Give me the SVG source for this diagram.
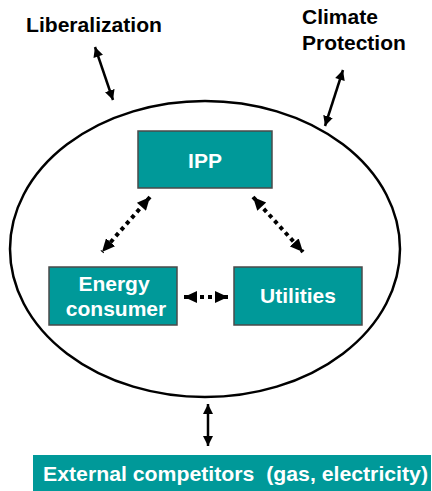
<svg xmlns="http://www.w3.org/2000/svg" width="432" height="491" viewBox="0 0 432 491">
  <style>
    .box { fill: #009999; stroke: #4a4a4a; stroke-width: 1.5; }
    .lbl { font-family: "Liberation Sans", Arial, sans-serif; font-weight: bold; font-size: 21px; }
    .white { fill: #ffffff; }
    .dark { fill: #000000; }
    .solid { stroke: #000; stroke-width: 2.5; fill: none; marker-start: url(#headS); marker-end: url(#headE); }
    .dotted { stroke: #000; stroke-width: 4; stroke-dasharray: 4 4; fill: none; marker-start: url(#dotS); marker-end: url(#dotE); }
  </style>
  <defs>
    <marker id="headE" markerUnits="userSpaceOnUse" markerWidth="12" markerHeight="10" refX="10" refY="5" orient="auto">
      <path d="M0,0 L10,5 L0,10 Z" fill="#000"/>
    </marker>
    <marker id="headS" markerUnits="userSpaceOnUse" markerWidth="12" markerHeight="10" refX="0" refY="5" orient="auto">
      <path d="M10,0 L0,5 L10,10 Z" fill="#000"/>
    </marker>
    <marker id="dotE" markerUnits="userSpaceOnUse" markerWidth="14" markerHeight="12" refX="13" refY="6" orient="auto">
      <path d="M0,0 L13,6 L0,12 Z" fill="#000"/>
    </marker>
    <marker id="dotS" markerUnits="userSpaceOnUse" markerWidth="14" markerHeight="12" refX="0" refY="6" orient="auto">
      <path d="M13,0 L0,6 L13,12 Z" fill="#000"/>
    </marker>
  </defs>

  <rect width="432" height="491" fill="#ffffff"/>

  <!-- market boundary -->
  <g id="market">
    <ellipse cx="205" cy="249" rx="195" ry="148" fill="none" stroke="#000" stroke-width="2.5"/>
  </g>

  <g id="liberalization">
    <text class="lbl dark" x="26" y="32" textLength="136" lengthAdjust="spacingAndGlyphs">Liberalization</text>
  </g>

  <g id="climate">
    <text class="lbl dark" x="302" y="24">Climate</text>
    <text class="lbl dark" x="302" y="50">Protection</text>
  </g>

  <g id="ipp">
    <rect class="box" x="138" y="131" width="134" height="57"/>
    <text class="lbl white" x="205" y="168" text-anchor="middle">IPP</text>
  </g>

  <g id="consumer">
    <rect class="box" x="49" y="267" width="128" height="58"/>
    <text class="lbl white" x="114" y="291" text-anchor="middle">Energy</text>
    <text class="lbl white" x="116" y="316" text-anchor="middle">consumer</text>
  </g>

  <g id="utilities">
    <rect class="box" x="234" y="267" width="128" height="58"/>
    <text class="lbl white" x="298" y="303" text-anchor="middle">Utilities</text>
  </g>

  <g id="competitors">
    <rect x="33" y="455" width="398" height="36" fill="#009999"/>
    <text class="lbl white" x="43" y="481" xml:space="preserve" textLength="385" lengthAdjust="spacingAndGlyphs">External competitors  (gas, electricity)</text>
  </g>

  <g id="connectors">
    <line class="solid" x1="95" y1="47" x2="113" y2="100"/>
    <line class="solid" x1="343" y1="70" x2="325" y2="126"/>
    <line class="solid" x1="208" y1="404" x2="208" y2="446"/>
    <line class="dotted" x1="150" y1="197" x2="102" y2="252"/>
    <line class="dotted" x1="253" y1="197" x2="303" y2="252"/>
    <line class="dotted" x1="184" y1="297" x2="228" y2="297"/>
  </g>
</svg>
